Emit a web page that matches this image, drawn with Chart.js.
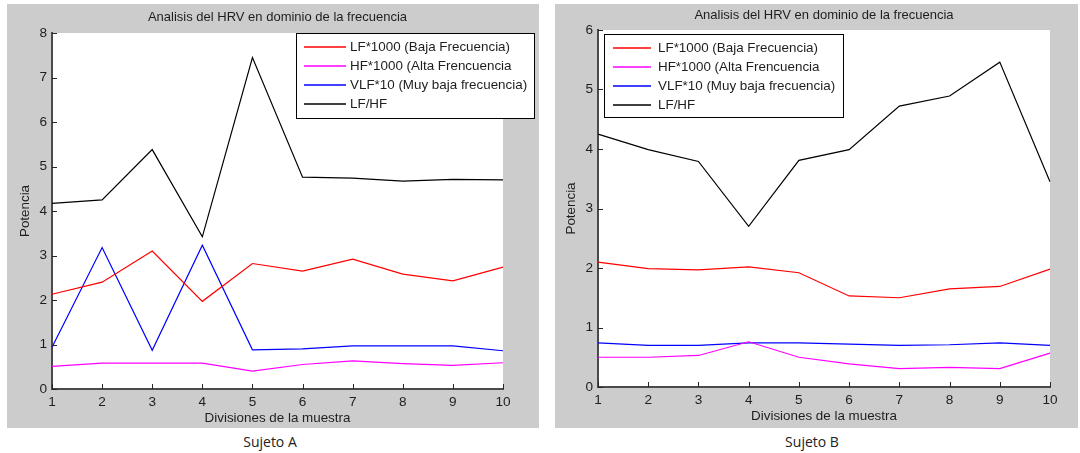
<!DOCTYPE html>
<html>
<head>
<meta charset="utf-8">
<script src="https://cdn.jsdelivr.net/npm/chart.js@4/dist/chart.umd.min.js"></script>
<style>
  html, body { margin: 0; padding: 0; background: #ffffff; width: 1080px; height: 453px; overflow: hidden; }
  .panel { position: absolute; background: #cccccc; }
  .panel canvas { display: block; }
  .caption { position: absolute; font-family: "Open Sans", "Noto Sans", sans-serif; font-size: 14px; color: #222222;
             transform: translate(-50%, -50%); white-space: nowrap; }
</style>
</head>
<body>
<div class="panel" style="left:7px; top:4px; width:532px; height:424px;">
  <canvas id="chartA" width="532" height="424"></canvas>
</div>
<div class="panel" style="left:555px; top:4px; width:523px; height:424px;">
  <canvas id="chartB" width="523" height="424"></canvas>
</div>
<div class="caption" style="left:270px; top:441px;">Sujeto A</div>
<div class="caption" style="left:812px; top:441px;">Sujeto B</div>

<script>
// Divisiones de la muestra (eje x)
const divisiones = ['1', '2', '3', '4', '5', '6', '7', '8', '9', '10'];

// Nombres de las series
const serieNombres = ['LF*1000 (Baja Frecuencia)', 'HF*1000 (Alta Frencuencia', 'VLF*10 (Muy baja frecuencia)', 'LF/HF'];
const serieColores = ['#ff0000', '#ff00ff', '#0000ff', '#000000'];

// Sujeto A
const sujetoA_LF   = [2.13, 2.40, 3.10, 1.97, 2.82, 2.65, 2.92, 2.58, 2.43, 2.74];
const sujetoA_HF   = [0.51, 0.58, 0.58, 0.58, 0.40, 0.55, 0.63, 0.57, 0.53, 0.59];
const sujetoA_VLF  = [0.94, 3.18, 0.87, 3.23, 0.88, 0.90, 0.97, 0.97, 0.97, 0.86];
const sujetoA_LFHF = [4.17, 4.25, 5.38, 3.42, 7.45, 4.76, 4.74, 4.67, 4.71, 4.70];
const sujetoA_yTicks = { min: 0, max: 8, step: 1 };

// Sujeto B
const sujetoB_LF   = [2.10, 1.99, 1.97, 2.02, 1.92, 1.53, 1.50, 1.65, 1.69, 1.98];
const sujetoB_HF   = [0.50, 0.50, 0.53, 0.76, 0.50, 0.39, 0.31, 0.33, 0.31, 0.57];
const sujetoB_VLF  = [0.74, 0.70, 0.70, 0.74, 0.74, 0.72, 0.70, 0.71, 0.74, 0.70];
const sujetoB_LFHF = [4.25, 3.99, 3.79, 2.70, 3.81, 3.99, 4.72, 4.89, 5.46, 3.45];
const sujetoB_yTicks = { min: 0, max: 6, step: 1 };

const titulo = 'Analisis del HRV en dominio de la frecuencia';
const ejeX = 'Divisiones de la muestra';
const ejeY = 'Potencia';

const FONT = '"Liberation Sans", Arial, sans-serif';
const TEXT = '#1e1e1e';

// White plot box, inward tick marks, title and boxed legend
const matlabAxes = {
  id: 'matlabAxes',
  beforeDraw(chart) {
    const { ctx, chartArea: a } = chart;
    ctx.save();
    ctx.fillStyle = '#ffffff';
    ctx.fillRect(a.left, a.top, a.right - a.left, a.bottom - a.top);
    ctx.restore();
  },
  afterDraw(chart, args, opts) {
    const { ctx, chartArea: a, scales } = chart;
    ctx.save();
    // inward ticks
    ctx.strokeStyle = '#262626';
    ctx.lineWidth = 1;
    ctx.beginPath();
    scales.x.ticks.forEach((t, i) => {
      const px = Math.round(scales.x.getPixelForTick(i)) + 0.5;
      ctx.moveTo(px, a.bottom);
      ctx.lineTo(px, a.bottom - 5);
    });
    scales.y.ticks.forEach((t, i) => {
      const py = Math.round(scales.y.getPixelForTick(i)) + 0.5;
      ctx.moveTo(a.left, py);
      ctx.lineTo(a.left + 5, py);
    });
    ctx.stroke();

    // title
    ctx.fillStyle = TEXT;
    ctx.font = '13px ' + FONT;
    ctx.textAlign = 'center';
    ctx.textBaseline = 'middle';
    ctx.fillText(opts.title, (a.left + a.right) / 2, opts.titleY);

    // legend
    const L = opts.legend;
    ctx.fillStyle = '#ffffff';
    ctx.fillRect(L.x, L.y, L.w, L.h);
    ctx.strokeStyle = '#000000';
    ctx.lineWidth = 1;
    ctx.strokeRect(L.x + 0.5, L.y + 0.5, L.w, L.h);
    ctx.font = '13.4px ' + FONT;
    ctx.textAlign = 'left';
    chart.data.datasets.forEach((ds, i) => {
      const y = Math.round(L.y + L.first + i * L.step);
      ctx.strokeStyle = ds.borderColor;
      ctx.lineWidth = 1.3;
      ctx.beginPath();
      ctx.moveTo(L.x + L.s0, y);
      ctx.lineTo(L.x + L.s1, y);
      ctx.stroke();
      ctx.fillStyle = TEXT;
      ctx.fillText(ds.label, L.x + L.tx, y);
    });
    ctx.restore();
  }
};

function buildDatasets(series) {
  return series.map((vals, i) => ({
    label: serieNombres[i],
    data: vals,
    borderColor: serieColores[i],
    backgroundColor: serieColores[i],
    borderWidth: 1.2,
    pointRadius: 0,
    tension: 0,
    fill: false
  }));
}

function buildChart(id, series, yt, geo) {
  return new Chart(document.getElementById(id), {
    type: 'line',
    data: { labels: divisiones, datasets: buildDatasets(series) },
    plugins: [matlabAxes],
    options: {
      responsive: false,
      animation: false,
      devicePixelRatio: 1,
      layout: { padding: { left: 0, top: geo.top, right: geo.right, bottom: 0 } },
      plugins: {
        legend: { display: false },
        title: { display: false },
        tooltip: { enabled: false },
        matlabAxes: { title: titulo, titleY: geo.titleY, legend: geo.legend }
      },
      scales: {
        x: {
          type: 'category',
          offset: false,
          grid: { display: false, drawTicks: false },
          border: { display: true, color: '#4a4a4a', width: 2 },
          ticks: { color: TEXT, font: { family: FONT, size: 13.6, lineHeight: 1.2 }, padding: 5, maxRotation: 0, autoSkip: false },
          title: { display: true, text: ejeX, color: TEXT, font: { family: FONT, size: 13.4, lineHeight: 1.2 },
                   padding: { top: 0, bottom: geo.xTitlePad } },
          afterFit(scale) { scale.height = geo.xHeight; }
        },
        y: {
          type: 'linear',
          min: yt.min,
          max: yt.max,
          grid: { display: false, drawTicks: false },
          border: { display: true, color: '#4a4a4a', width: 2 },
          ticks: { stepSize: yt.step, color: TEXT, font: { family: FONT, size: 13.6, lineHeight: 1.2 }, padding: 5 },
          title: { display: true, text: ejeY, color: TEXT, font: { family: FONT, size: 13.4, lineHeight: 1.2 },
                   padding: { top: geo.yTitlePad, bottom: 0 } },
          afterFit(scale) { scale.width = geo.yWidth; }
        }
      }
    }
  });
}

buildChart('chartA', [sujetoA_LF, sujetoA_HF, sujetoA_VLF, sujetoA_LFHF], sujetoA_yTicks, {
  top: 29, right: 36, xHeight: 39, yWidth: 45, xTitlePad: 2, yTitlePad: 10, titleY: 13,
  legend: { x: 289, y: 29, w: 238, h: 85, first: 13.5, step: 19, s0: 8, s1: 50, tx: 54 }
});

buildChart('chartB', [sujetoB_LF, sujetoB_HF, sujetoB_VLF, sujetoB_LFHF], sujetoB_yTicks, {
  top: 26, right: 28, xHeight: 41, yWidth: 43, xTitlePad: 4, yTitlePad: 8, titleY: 11,
  legend: { x: 49, y: 30, w: 239, h: 83, first: 14, step: 19, s0: 9, s1: 47, tx: 54 }
});
</script>
</body>
</html>
